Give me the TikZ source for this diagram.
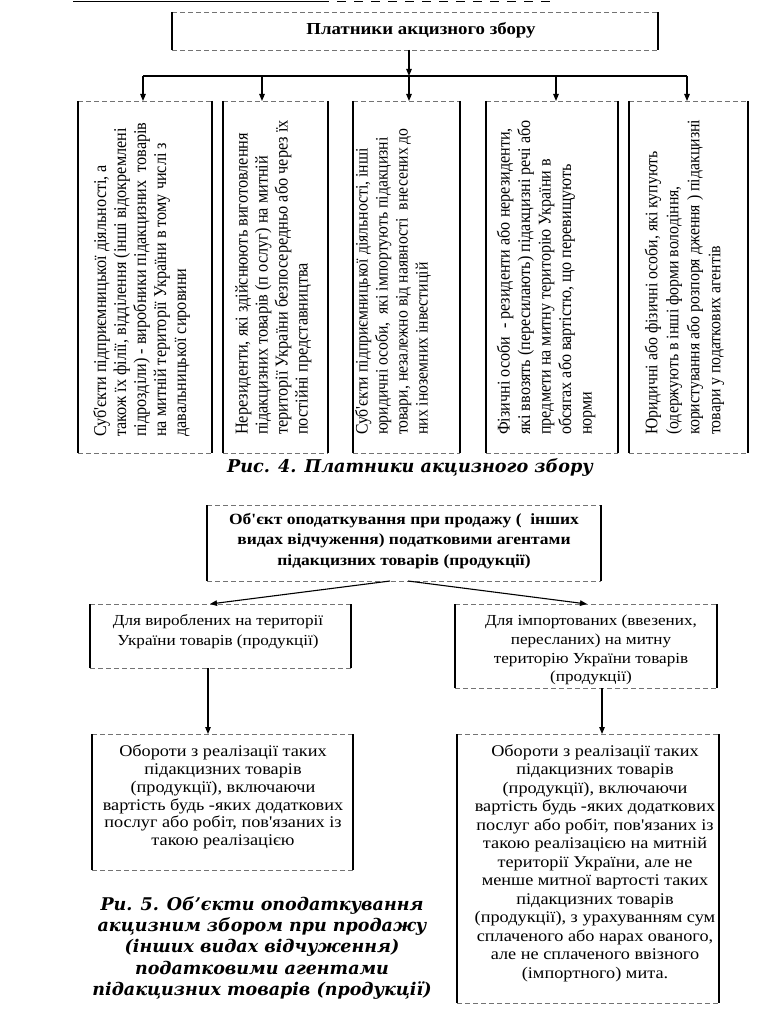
\documentclass[tikz,border=0pt]{standalone}
\usepackage{fontspec}
\setmainfont{Liberation Serif}
\newfontfamily\capfont{DejaVu Serif}
\newfontfamily\wideserif{Liberation Serif}[FakeStretch=1.12]
\newfontfamily\narrowserif{Liberation Serif}[FakeStretch=0.9]
\usetikzlibrary{arrows.meta}
\newcommand\mysides[1]{%
  \draw[topbot] (#1.north west) -- (#1.north east);
  \draw[topbot] (#1.south west) -- (#1.south east);
  \draw[side] (#1.north west) -- (#1.south west);
  \draw[side] (#1.north east) -- (#1.south east);}
\begin{document}
\begin{tikzpicture}[x=1pt,y=-1pt,
  arr/.style={line width=1.1pt,-{Triangle[length=7pt,width=5.5pt]}},
  plain/.style={line width=1.1pt},
  side/.style={line width=1.5pt},
  topbot/.style={line width=0.7pt,black!55,dash pattern=on 5pt off 3pt},
  frame/.style={draw=none,inner sep=0pt,outer sep=0pt},
  vtext/.style={rotate=90,align=left,inner sep=0pt,anchor=north west},
  htext/.style={align=center,inner sep=0pt},
  capstyle/.style={align=center,inner sep=0pt}]
\useasboundingbox (0,0) rectangle (772,1035);
% stray line at the top
\draw[line width=1.5pt] (73,1.5) -- (320,1.5);
\draw[line width=1.5pt,dash pattern=on 9pt off 8pt] (320,1.5) -- (552,1.5);
% title box
\node[frame,minimum width=486pt,minimum height=38pt] (T) at (415,31) {};
\mysides{T}
\node[font=\wideserif\bfseries\fontsize{16.8}{18}\selectfont,inner sep=0pt] (Tt) at (421,30) {Платники акцизного збору};
% bus
\coordinate (b1) at (143,76);
\coordinate (b2) at (262,76);
\coordinate (b3) at (409,76);
\coordinate (b4) at (556,76);
\coordinate (b5) at (687,76);
\draw[arr] (T.south -| b3) -- (b3);
\draw[plain] (b1) -- (b5);
% five boxes
\node[frame,minimum width=134pt,minimum height=352pt] (B1) at (145,277) {};
\node[frame,minimum width=105pt,minimum height=352pt] (B2) at (275.5,277) {};
\node[frame,minimum width=107pt,minimum height=352pt] (B3) at (406.5,277) {};
\node[frame,minimum width=132pt,minimum height=352pt] (B4) at (552,277) {};
\node[frame,minimum width=119pt,minimum height=352pt] (B5) at (688.5,277) {};
\mysides{B1}\mysides{B2}\mysides{B3}\mysides{B4}\mysides{B5}
\draw[arr] (b1) -- (b1 |- B1.north);
\draw[arr] (b2) -- (b2 |- B2.north);
\draw[arr] (b3) -- (b3 |- B3.north);
\draw[arr] (b4) -- (b4 |- B4.north);
\draw[arr] (b5) -- (b5 |- B5.north);
\node[vtext,font=\narrowserif\fontsize{18}{20}\selectfont] (t1) at (93,437) {Суб'єкти підприємницької діяльності, а\\
також їх філії, відділення (інші відокремлені\\
підрозділи) - виробники підакцизних\ \ товарів\\
на митній території України в тому числі з\\
давальницької сировини};
\node[vtext,font=\narrowserif\fontsize{18.1}{20}\selectfont] (t2) at (235,435) {Нерезиденти, які здійснюють виготовлення\\
підакцизних товарів (п ослуг) на митній\\
території України безпосередньо або через їх\\
постійні представництва};
\node[vtext,font=\narrowserif\fontsize{17.5}{20}\selectfont] (t3) at (355,435) {Суб'єкти підприємницької діяльності, інші\\
юридичні особи,\ \ які імпортують підакцизні\\
товари, незалежно від наявності\ \ внесених до\\
них іноземних інвестицій};
\node[vtext,font=\narrowserif\fontsize{17.9}{20.5}\selectfont] (t4) at (496.5,435) {Фізичні особи\ \ - резиденти або нерезиденти,\\
які ввозять (пересилають) підакцизні речі або\\
предмети на митну територію України в\\
обсягах або вартістю, що перевищують\\
норми};
\node[vtext,font=\narrowserif\fontsize{17.6}{21}\selectfont] (t5) at (644.5,435) {Юридичні або фізичні особи, які купують\\
(одержують в інші форми володіння,\\
користування або розпоря дження ) підакцизні\\
товари у податкових агентів};
% caption 1
\node[capstyle,font=\capfont\bfseries\itshape\fontsize{17.6}{21}\selectfont] (c1) at (410,468) {Рис. 4. Платники акцизного збору};
% lower part
\node[frame,minimum width=394pt,minimum height=76pt] (O) at (404,543) {};
\mysides{O}
\node[htext,font=\wideserif\bfseries\fontsize{15.6}{20.3}\selectfont] (Ot) at (404,541) {Об'єкт оподаткування при продажу (\ \ інших\\
видах відчуження) податковими агентами\\
підакцизних товарів (продукції)};
\node[frame,minimum width=261pt,minimum height=64pt] (L1) at (220.5,636) {};
\node[frame,minimum width=262pt,minimum height=84pt] (R1) at (586,646) {};
\node[frame,minimum width=261pt,minimum height=136pt] (L2) at (222.5,802) {};
\node[frame,minimum width=262pt,minimum height=269pt] (R2) at (588,868.5) {};
\mysides{L1}\mysides{R1}\mysides{L2}\mysides{R2}
\node[htext,font=\wideserif\fontsize{15.3}{20}\selectfont] (L1t) at (218,632) {Для вироблених на території\\
України товарів (продукції)};
\node[htext,font=\wideserif\fontsize{15.3}{18.7}\selectfont] (R1t) at (591,650) {Для імпортованих (ввезених,\\
пересланих) на митну\\
територію України товарів\\
(продукції)};
\node[htext,font=\wideserif\fontsize{16.3}{17.8}\selectfont] (L2t) at (223,797) {Обороти з реалізації таких\\
підакцизних товарів\\
(продукції), включаючи\\
вартість будь -яких додаткових\\
послуг або робіт, пов'язаних із\\
такою реалізацією};
\node[htext,font=\wideserif\fontsize{16.3}{18.5}\selectfont] (R2t) at (595,863) {Обороти з реалізації таких\\
підакцизних товарів\\
(продукції), включаючи\\
вартість будь -яких додаткових\\
послуг або робіт, пов'язаних із\\
такою реалізацією на митній\\
території України, але не\\
менше митної вартості таких\\
підакцизних товарів\\
(продукції), з урахуванням сум\\
сплаченого або нарах ованого,\\
але не сплаченого ввізного\\
(імпортного) мита.};
\draw[arr] ([xshift=-14pt]O.south) -- ([xshift=-10.5pt]L1.north);
\draw[arr] ([xshift=4pt]O.south) -- ([xshift=1pt]R1.north);
\draw[arr] ([xshift=-12.5pt]L1.south) -- ([xshift=-14.5pt]L2.north);
\draw[arr] ([xshift=16pt]R1.south) -- ([xshift=14pt]R2.north);
% caption 2
\node[capstyle,font=\capfont\bfseries\itshape\fontsize{17.5}{21.2}\selectfont] (c2) at (262,948) {Ри. 5. Об’єкти оподаткування\\
акцизним збором при продажу\\
(інших видах відчуження)\\
податковими агентами\\
підакцизних товарів (продукції)};
\end{tikzpicture}
\end{document}
